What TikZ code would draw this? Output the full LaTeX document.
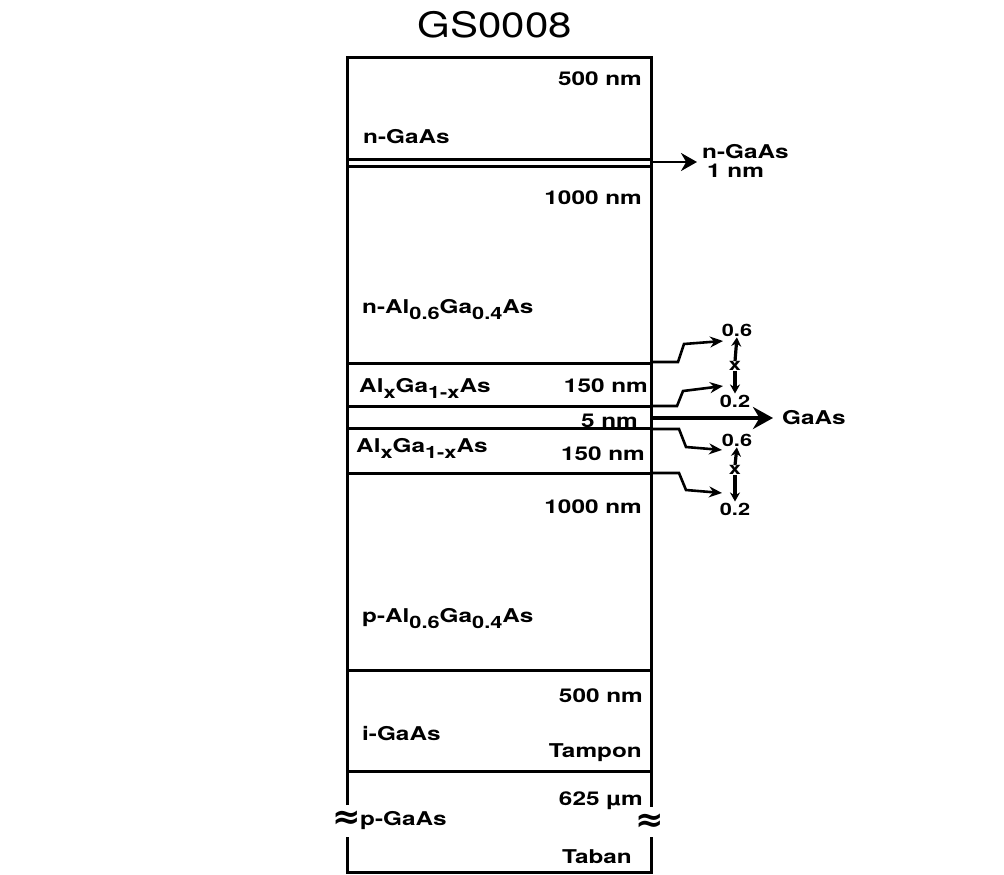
\documentclass[tikz,border=0pt]{standalone}
\usepackage{fontspec}
\setmainfont[FakeStretch=1.28]{TeX Gyre Heros}
\newfontfamily\titlefont[FakeStretch=1.2]{TeX Gyre Heros}
\newfontfamily\symfont{DejaVu Sans}
\usetikzlibrary{arrows.meta}
\newcommand{\lowr}[1]{\raisebox{-6pt}{\fontsize{17}{17}\selectfont #1}}

\begin{document}
\begin{tikzpicture}[x=1pt,y=-1pt,
  every node/.style={font=\fontsize{19}{21}\selectfont\bfseries,inner sep=0pt},
  layer/.style={line width=3pt},
  steparr/.style={line width=2.6pt,-{Stealth[length=13pt,width=11pt]}},
  vert/.style={line width=3.2pt,-{Stealth[length=9pt,width=10pt]},shorten >=1pt},
  small/.style={font=\fontsize{17}{18}\selectfont\bfseries}]
\useasboundingbox (0,0) rectangle (1004,875);

% title
\node[anchor=base,font=\titlefont\fontsize{35}{36}\selectfont] (title) at (495,38) {GS0008};

% layer stack
\draw[layer] (347,805) -- (347,58) -- (651,58) -- (651,807);
\draw[layer] (347,837) -- (347,872) -- (651,872) -- (651,837);
\foreach \yy in {159,166,363,406,428,473,670,771}
  \draw[layer] (347,\yy) -- (651,\yy);

% layer labels
\node[anchor=base east] (th1) at (642,85) {500 nm};
\node[anchor=base west] (capn) at (363,143) {n-GaAs};
\node[anchor=base east] (th2) at (642,204) {1000 nm};
\node[anchor=base west] (clad1) at (362,313) {n-Al\lowr{0.6}Ga\lowr{0.4}As};
\node[anchor=base west] (grin1) at (359,392) {Al\lowr{x}Ga\lowr{1-x}As};
\node[anchor=base east] (th3) at (648,392) {150 nm};
\node[anchor=base east] (th4) at (638,427) {5 nm};
\node[anchor=base west] (grin2) at (356,452) {Al\lowr{x}Ga\lowr{1-x}As};
\node[anchor=base east] (th5) at (645,460) {150 nm};
\node[anchor=base east] (th6) at (642,513) {1000 nm};
\node[anchor=base west] (clad2) at (362,622) {p-Al\lowr{0.6}Ga\lowr{0.4}As};
\node[anchor=base east] (th7) at (643,702) {500 nm};
\node[anchor=base west] (buf) at (362,740) {i-GaAs};
\node[anchor=base east] (tamp) at (642,757) {Tampon};
\node[anchor=base east] (th8) at (643,805) {625 µm};
\node[anchor=base west] (subs) at (360,825) {p-GaAs};
\node[anchor=base east] (tab) at (632,863) {Taban};
\node[font=\symfont\fontsize{34}{34}\selectfont\bfseries] (brkl) at (347,820) {≈};
\node[font=\symfont\fontsize{34}{34}\selectfont\bfseries] (brkr) at (650,823) {≈};

% thin n-GaAs layer
\coordinate (thin) at (651,162);
\coordinate (thintip) at (697,162);
\draw[line width=2.4pt,-{Stealth[length=16pt,width=18pt]}] (thin) -- (thintip);
\node[anchor=base west] (thinlbl) at (702,158) {n-GaAs};
\node[anchor=base west] (thinth) at (707,177) {1 nm};

% quantum well
\coordinate (qw) at (651,418);
\coordinate (qwtip) at (773,418);
\draw[line width=4.5pt,-{Stealth[length=20pt,width=22pt]}] (qw) -- (qwtip);
\node[anchor=base west] (qwlbl) at (782,424) {GaAs};

% composition grading, upper
\node[small,anchor=base] (sixa) at (737,336) {0.6};
\node[small] (xa) at (735,366) {x};
\node[small,anchor=base] (twoa) at (735,407) {0.2};
\draw[vert] (xa.north) -- (sixa.south);
\draw[vert] (xa.south) -- (twoa.north);
\coordinate (ga) at (651,362);
\coordinate (gatip) at (723,341);
\draw[steparr] (ga) -- (678,362) -- (684,344) -- (gatip);
\coordinate (gb) at (651,406);
\coordinate (gbtip) at (723,386);
\draw[steparr] (gb) -- (677,406) -- (683,391) -- (gbtip);

% composition grading, lower
\node[small,anchor=base] (sixb) at (737,446) {0.6};
\node[small] (xb) at (735,470) {x};
\node[small,anchor=base] (twob) at (735,515) {0.2};
\draw[vert] (xb.north) -- (sixb.south);
\draw[vert] (xb.south) -- (twob.north);
\coordinate (gc) at (651,429);
\coordinate (gctip) at (722,450);
\draw[steparr] (gc) -- (679,429) -- (686,447) -- (gctip);
\coordinate (gd) at (651,473);
\coordinate (gdtip) at (722,493);
\draw[steparr] (gd) -- (679,473) -- (686,490) -- (gdtip);
\end{tikzpicture}
\end{document}
